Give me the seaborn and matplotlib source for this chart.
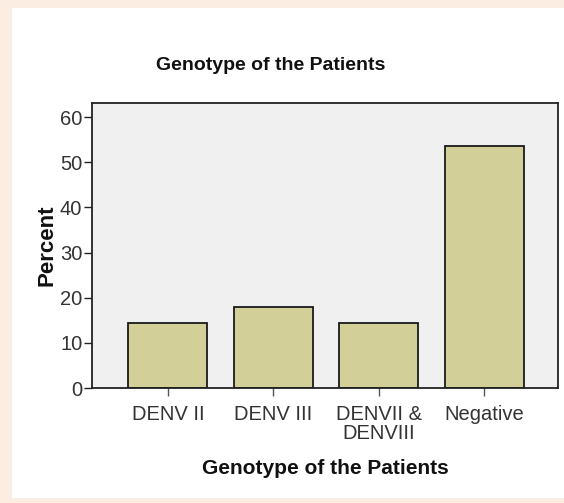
import matplotlib
matplotlib.use("Agg")
import matplotlib.pyplot as plt
import seaborn as sns
from matplotlib.patches import Rectangle

genotypes = ["DENV II", "DENV III", "DENVII &\nDENVIII", "Negative"]
percents = [14.3, 17.9, 14.3, 53.6]
y_ticks = [0, 10, 20, 30, 40, 50, 60]

sns.set_style("ticks")
plt.rcParams["font.family"] = ["Liberation Sans", "DejaVu Sans"]

W, H = 564, 503
fig = plt.figure(figsize=(W / 100, H / 100), dpi=100)
fig.patch.set_facecolor("#fcede2")

# white panel behind the chart
fig.patches.append(
    Rectangle((12 / W, 5 / H), 1 - 12 / W, 490 / H,
              transform=fig.transFigure, facecolor="white",
              edgecolor="none", zorder=-5)
)

ax = fig.add_axes([92 / W, (H - 388) / H, 466 / W, 285 / H])
ax.set_facecolor("#f0f0f0")

sns.barplot(
    x=genotypes,
    y=percents,
    color="#d3cf98",
    saturation=1,
    edgecolor="#1a1a1a",
    linewidth=1.3,
    width=0.75,
    ax=ax
)

ax.set_xlim(-0.72, 3.70)
ax.set_ylim(0, 63.1)
ax.set_yticks(y_ticks)

for side in ["left", "bottom", "top", "right"]:
    ax.spines[side].set_visible(True)
    ax.spines[side].set_linewidth(1.3)
    ax.spines[side].set_color("#222222")

ax.tick_params(axis="y", length=6, width=1, pad=1, labelsize=14.5,
               colors="#222222", labelcolor="#333333")
ax.tick_params(axis="x", length=6, width=1, pad=6, labelsize=14.5,
               colors="#555555", labelcolor="#333333")
for t in ax.get_xticklabels():
    t.set_linespacing(1.05)

ax.set_xlabel("Genotype of the Patients", fontsize=15, fontweight="bold",
              color="#111111", va="center")
ax.xaxis.set_label_coords(0.5, -0.281)
ax.set_ylabel("Percent", fontsize=16, fontweight="bold",
              color="#111111", va="center")
ax.yaxis.set_label_coords(-0.097, 0.5)

fig.text(271 / W, 1 - 66 / H, "Genotype of the Patients", fontsize=14,
         fontweight="bold", ha="center", va="center", color="#111111")

fig.savefig("out.png", dpi=100, facecolor=fig.get_facecolor())
